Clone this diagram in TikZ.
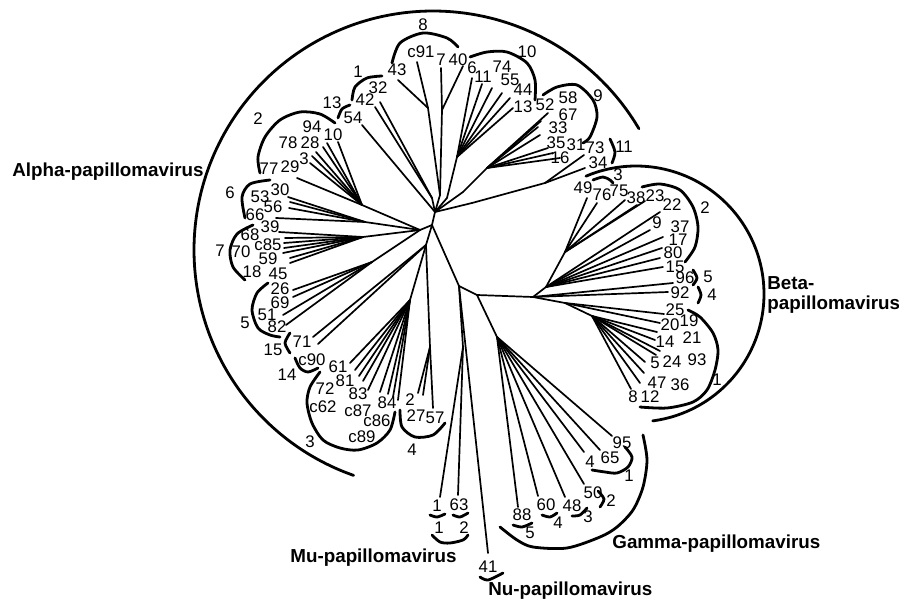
\documentclass[tikz,border=0pt]{standalone}
\usepackage{fontspec}
\setmainfont{Liberation Sans}
\begin{document}
\begin{tikzpicture}[x=0.5pt,y=-0.5pt,
  num/.style={font=\fontsize{8.4}{9}\selectfont,inner sep=0pt},
  grp/.style={font=\bfseries\fontsize{9.4}{10}\selectfont,inner sep=0pt,anchor=west},
  tr/.style={line width=0.85pt,line cap=round,line join=round},
  br/.style={line width=1.4pt,line cap=round}]
\useasboundingbox (0,0) rectangle (899,604);

% ---------- internal nodes ----------
\foreach \n/\x/\y in {H/432/225,ha/435/212,hl/420/230,hb/426/245,M0/459/286,G0/477/295,B0/533/297,
  n8c/440/195,n8a/428/108,n8b/442/110,n1/432/198,n10/457/157,n10b/447/198,n9/487/168,n9b/463/192,
  n11/545/183,n11b/472/203,n2/362/205,n6/365/222,n7/363/237,n5/372/262,n3/410/300,n4/430/347,
  nmu/463/347,ng/497/337,b1/546/287,bu1/565/252,b2/565/303,b3/592/316}
  \coordinate (\n) at (\x,\y);

% ---------- leaf tips ----------
\foreach \n/\x/\y in {t43/398/80,tc91/417/62,t7/441/68,t40/463/66,t32/380/102,t42/375/107,t54/362/125,
  t6/472/78,t11/482/84,t74/492/88,t55/502/93,t44/510/98,t13/513/108,
  t52/548/113,t58/541/121,t67/538/127,t33/540/135,t35/548/148,t31/553/153,t16/560/158,
  t73/584/155,t34/585/168,
  ta/338/142,tb/327/143,tc/323/147,td/316/152,te/312/156,tf/310/163,tg/297/178,
  t30/288/197,t53/290/202,t56/289/208,t66/276/218,
  u1/279/232,u2/285/238,u3/284/243,u4/284/248,u5/283/253,u6/290/258,u7/290/263,
  t26/293/290,t69/293/297,t51/283/315,t82/286/325,t71/313/337,tc90/318/344,
  v1/350/363,v2/355/370,v3/359/376,v4/363/381,v5/368/390,v6/380/392,v7/388/394,v8/393/397,v9/398/400,
  t2/418/393,t27/423/395,t57/433/408,
  tm1/440/497,tm63/458/495,t41/488/553,
  g88/518/507,g60/538/496,g48/565/497,g50/584/484,g4/584/452,g65/600/450,g95/612/436,
  b49/587/198,b76/597/203,b75/625/200,b38/637/205,b23/645/201,b22/660/212,b9/650/230,
  b37/663/237,b17/662/248,b80/660/258,b15/663/267,b96/673/283,b92/668/292,
  w1/664/314,w2/660/323,w3/657/332,w4/655/340,w5/660/351,w6/656/355,w7/645/362,w8/644/373,w9/640/383,w10/631/389}
  \coordinate (\n) at (\x,\y);

% ---------- branches ----------
\foreach \a/\b in {H/ha,H/hl,H/hb,H/M0,M0/G0,G0/B0,
  n8c/ha,n8a/n8c,n8b/n8c,t43/n8a,tc91/n8a,t7/n8b,t40/n8b,
  n1/ha,t32/n1,t42/n1,t54/ha,
  n10b/ha,n10/n10b,t6/n10,t11/n10,t74/n10,t55/n10,t44/n10,t13/n10,
  n9b/ha,n9/n9b,t52/n9,t58/n9,t67/n9,t33/n9,t35/n9,t31/n9,t16/n9,
  n11b/ha,n11/n11b,t73/n11,t34/n11,
  n2/hl,ta/n2,tb/n2,tc/n2,td/n2,te/n2,tf/n2,tg/n2,
  n6/hl,t30/n6,t53/n6,t56/n6,t66/n6,
  n7/hl,u1/n7,u2/n7,u3/n7,u4/n7,u5/n7,u6/n7,u7/n7,
  n5/hl,t26/n5,t69/n5,t51/n5,t82/n5,
  t71/hb,tc90/hb,
  n3/hb,v1/n3,v2/n3,v3/n3,v4/n3,v5/n3,v6/n3,v7/n3,v8/n3,v9/n3,
  n4/hb,t2/n4,t27/n4,t57/n4,
  nmu/M0,tm1/nmu,tm63/nmu,t41/M0,
  ng/G0,g88/ng,g60/ng,g48/ng,g50/ng,g4/ng,g65/ng,g95/ng,
  b1/B0,bu1/b1,b49/bu1,b76/bu1,b75/bu1,b38/bu1,b23/bu1,
  b22/b1,b9/b1,b37/b1,b17/b1,b80/b1,b15/b1,b96/B0,b92/B0,
  b2/B0,w1/b2,w2/b2,b3/b2,w3/b3,w4/b3,w5/b3,w6/b3,w7/b3,w8/b3,w9/b3,w10/b3}
  \draw[tr] (\a) -- (\b);

% ---------- labels ----------
\foreach \n/\x/\y/\t in {La8/423/25/8,La43/397/70/43,Lac91/421/52/c91,La7/441/60/7,La40/458/60/40,
  La1/358/72/1,La32/378/88/32,La42/365/100/42,La13s/332/103/13,La54/353/118/54,
  La10s/527/52/10,La6/472/68/6,La11/483/77/11,La74/502/67/74,La55/510/80/55,La44/523/90/44,La13/523/107/13,
  La9s/598/96/9,La52/545/105/52,La58/568/98/58,La67/568/115/67,La33/558/128/33,La35/556/143/35,
  La31/576/145/31,La16/560/158/16,La73/595/148/73,La34/598/163/34,La11s/624/147/11,
  La2s/258/119/2,La94/312/127/94,La10/333/135/10,La78/288/143/78,La28/310/143/28,La3/304/159/3,
  La77/269/169/77,La29/290/167/29,
  La6s/230/193/6,La53/260/197/53,La30/280/190/30,La56/273/207/56,La66/255/215/66,
  La7s/220/251/7,La39/270/227/39,La68/250/235/68,Lac85/268/245/c85,La70/241/252/70,La59/268/259/59,
  La18/252/272/18,La45/278/274/45,
  La5s/245/323/5,La26/280/289/26,La69/280/303/69,La51/267/315/51,La82/277/327/82,
  La15s/273/350/15,La71/302/342/71,La14s/287/375/14,Lac90/312/360/c90,
  La3s/310/442/3,La61/338/367/61,La72/325/389/72,La81/345/381/81,La83/358/394/83,Lac62/323/407/c62,
  Lac87/358/411/c87,La84/387/403/84,Lac86/377/421/c86,Lac89/362/437/c89,
  La4s/412/450/4,La2/410/400/2,La27/416/416/27,La57/435/418/57,
  Lb3s/618/175/3,Lb49/583/188/49,Lb76/602/195/76,Lb75/619/191/75,Lb38/636/198/38,Lb23/655/196/23,
  Lb22/672/205/22,Lb2s/705/208/2,Lb9/657/223/9,Lb37/680/227/37,Lb17/678/240/17,Lb80/673/253/80,
  Lb15/675/267/15,Lb96/685/278/96,Lb5s/708/277/5,Lb92/680/293/92,Lb4s/712/295/4,Lb25/675/310/25,
  Lb19/689/321/19,Lb20/670/325/20,Lb14/665/342/14,Lb21/692/338/21,Lb24/672/362/24,Lb93/697/360/93,
  Lb5/655/363/5,Lb47/657/383/47,Lb36/680/385/36,Lb8/633/397/8,Lb12/650/397/12,Lb1s/717/380/1,
  Lg95/622/443/95,Lg65/610/458/65,Lg1s/629/476/1,Lg4/590/462/4,Lg50/593/493/50,Lg2s/611/501/2,
  Lg48/572/506/48,Lg3s/588/517/3,Lg60/546/505/60,Lg4s/558/523/4,Lg88/522/515/88,Lg5s/530/533/5,
  Lm1/437/506/1,Lm63/459/505/63,Lm1s/439/528/1,Lm2s/464/528/2,Ln41/488/567/41}
  \node[num] (\n) at (\x,\y) {\t};

% ---------- group labels ----------
\node[grp] (alpha) at (12,172) {Alpha-papillomavirus};
\node[grp] (beta1) at (767,283) {Beta-};
\node[grp] (beta2) at (767,305) {papillomavirus};
\node[grp] (gamma) at (612,544) {Gamma-papillomavirus};
\node[grp] (mu) at (290,558) {Mu-papillomavirus};
\node[grp] (nu) at (488,591) {Nu-papillomavirus};

% ---------- genus arcs ----------
\draw[br] plot[domain=30.5:250.6,samples=90,smooth] ({433+239*cos(\x)},{250-239*sin(\x)});
\draw[br] plot[domain=-82.5:113,samples=70,smooth] ({636+128*cos(\x)},{294-128*sin(\x)});
\draw[br] plot[smooth] coordinates {(500,527) (517,540) (533,547) (567,548) (600,537) (617,527) (633,510) (643,487) (647,460) (643,435)};

% ---------- species brackets ----------
\foreach \p in {
  {(392,63) (400,43) (423,33) (447,38) (458,47)},
  {(352,100) (355,87) (367,78) (382,76)},
  {(338,118) (342,109) (350,105)},
  {(470,57) (487,52) (507,52) (527,63) (535,80) (535,100)},
  {(543,95) (557,87) (577,85) (593,100) (597,117) (590,137) (583,143)},
  {(610,139) (615,152) (612,163)},
  {(260,173) (258,157) (265,137) (280,120) (300,112) (320,114) (335,123)},
  {(270,180) (250,184) (242,197) (245,218)},
  {(253,225) (237,234) (230,250) (233,267) (245,280)},
  {(268,283) (257,293) (252,310) (258,328) (270,335) (280,337)},
  {(290,333) (285,343) (290,353)},
  {(295,358) (300,368) (308,372) (318,368)},
  {(320,372) (310,387) (307,403) (312,423) (323,440) (340,448) (358,450) (377,443) (390,430) (395,412)},
  {(400,410) (402,427) (415,437) (433,435) (445,423)},
  {(593,180) (603,177) (610,180) (613,183)},
  {(642,187) (660,184) (680,190) (693,207) (698,227) (695,247) (685,262)},
  {(693,270) (697,278) (693,285)},
  {(698,287) (701,295) (698,303)},
  {(688,310) (700,317) (713,333) (718,350) (715,370) (707,390) (693,402) (667,408) (640,407)},
  {(592,470) (605,472) (617,473) (628,467) (632,457) (625,447)},
  {(598,491) (604,499) (600,507)},
  {(572,516) (580,515) (587,508)},
  {(542,515) (550,517) (557,513)},
  {(513,525) (522,527) (532,523)},
  {(430,515) (437,517) (445,514)},
  {(453,515) (460,517) (468,513)},
  {(432,535) (440,542) (450,543) (463,540) (468,535)},
  {(480,577) (488,580) (503,573)}}
  \draw[br] plot[smooth] coordinates \p;
\end{tikzpicture}
\end{document}
